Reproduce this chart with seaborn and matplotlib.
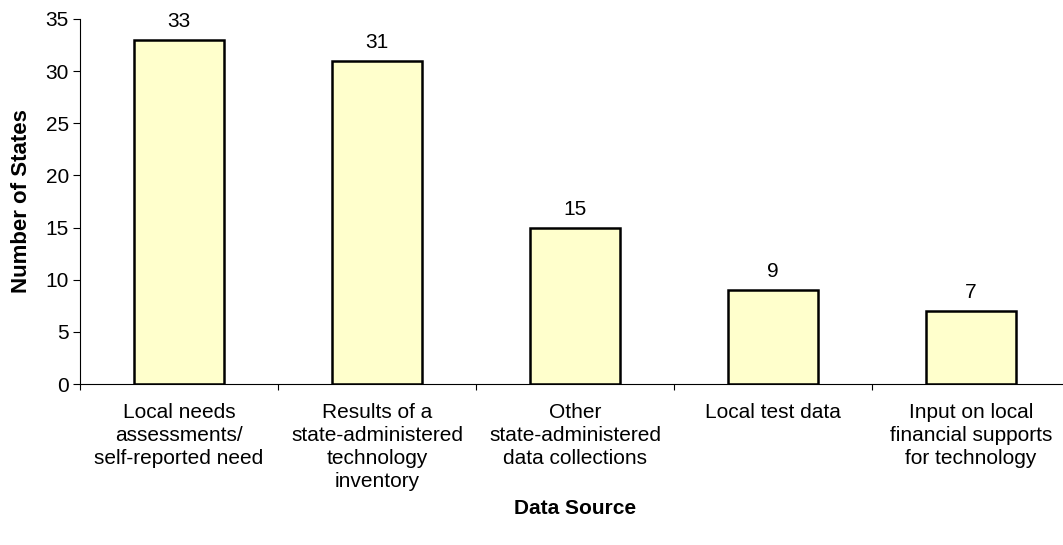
import matplotlib
matplotlib.use("Agg")
import matplotlib.pyplot as plt
import matplotlib.ticker as mticker
import pandas as pd
import seaborn as sns

sns.set_style("ticks")
plt.rcParams['font.family'] = ['Liberation Sans', 'DejaVu Sans']
plt.rcParams['text.color'] = 'black'
plt.rcParams['xtick.color'] = 'black'
plt.rcParams['ytick.color'] = 'black'
plt.rcParams['axes.labelcolor'] = 'black'
plt.rcParams['axes.edgecolor'] = 'black'

sources = ["Local needs\nassessments/\nself-reported need",
           "Results of a\nstate-administered\ntechnology\ninventory",
           "Other\nstate-administered\ndata collections",
           "Local test data",
           "Input on local\nfinancial supports\nfor technology"]
states = [33, 31, 15, 9, 7]

df = pd.DataFrame({"source": sources, "states": states})

fig = plt.figure(figsize=(10.63, 5.45), dpi=100)
ax = fig.add_axes([80 / 1063, 161 / 545, 990 / 1063, 365 / 545])

sns.barplot(data=df, x="source", y="states", ax=ax, color="#FFFFCC",
            edgecolor="black", linewidth=1.8, width=0.455, saturation=1)

for i, v in enumerate(states):
    ax.text(i, v + 1.25, str(v), ha="center", va="baseline", fontsize=15)

ax.set_xlim(-0.5, 4.5)
ax.set_ylim(0, 35)
ax.set_yticks(range(0, 36, 5))
ax.xaxis.set_minor_locator(mticker.FixedLocator([-0.5, 0.5, 1.5, 2.5, 3.5]))
ax.tick_params(axis="x", which="major", length=0, labelsize=15, pad=14)
ax.tick_params(axis="x", which="minor", length=4.5, width=0.8, direction="out")
ax.tick_params(axis="y", length=5, width=0.8, labelsize=15, pad=3)
for lab in ax.get_xticklabels():
    lab.set_linespacing(1.25)
ax.set_ylabel("Number of States", fontsize=16, fontweight="bold", labelpad=10)
ax.set_xlabel("Data Source", fontsize=15, fontweight="bold", labelpad=6)
sns.despine(ax=ax)
for s in ["left", "bottom"]:
    ax.spines[s].set_linewidth(0.8)

fig.savefig("out.png", dpi=100)
